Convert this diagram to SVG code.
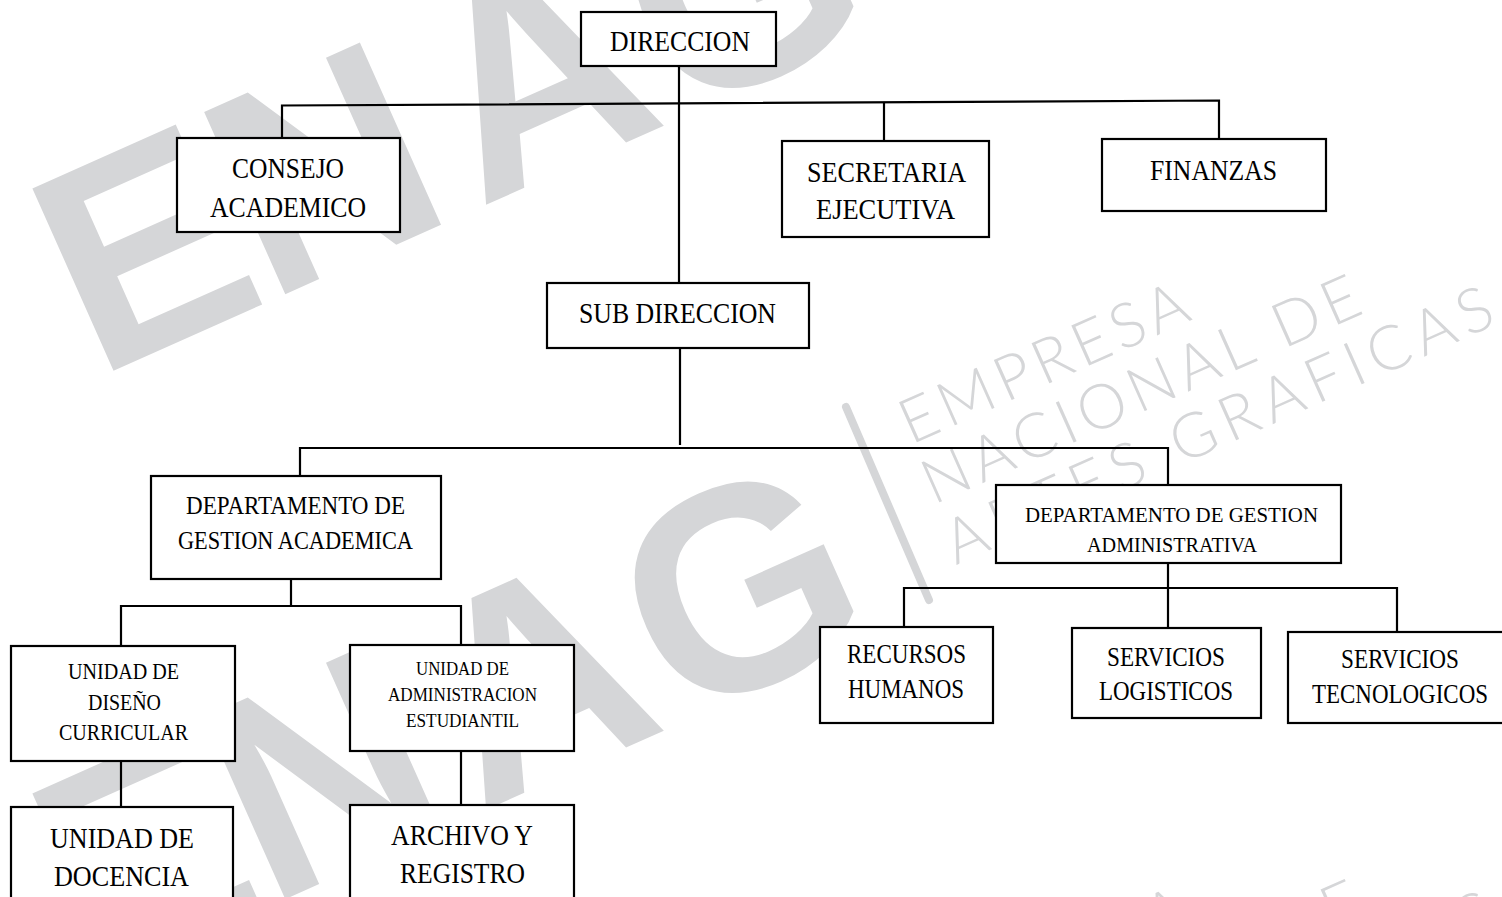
<svg xmlns="http://www.w3.org/2000/svg" width="1502" height="897" viewBox="0 0 1502 897">
<style>
.wm{fill:#d5d6d8;font-family:"Liberation Sans",Arial,sans-serif;font-weight:bold;font-size:290px}
.ws{fill:#d5d6d8;font-family:Lato,"Open Sans","Noto Sans",sans-serif;font-weight:300;font-size:62px}
.bar{stroke:#d5d6d8;stroke-width:8;stroke-linecap:round}
.box{fill:#fff;stroke:#000;stroke-width:2.2}
.t{font-family:"Liberation Serif","Times New Roman",serif;fill:#000;text-anchor:middle}
.c{stroke:#000;stroke-width:2.2;fill:none}
</style>
<defs>
  <g id="wtext">
    <text class="ws" x="0" y="0" textLength="309" lengthAdjust="spacing">EMPRESA</text>
    <text class="ws" x="-4" y="64" textLength="473" lengthAdjust="spacing">NACIONAL DE</text>
    <text class="ws" x="-8" y="128" textLength="594" lengthAdjust="spacing">ARTES GRAFICAS</text>
  </g>
</defs>
<rect width="1502" height="897" fill="#fff"/>
<g id="watermark">
  <g transform="translate(115,370) rotate(-24)"><text class="wm" x="-21 167 399 615" y="0">ENAG</text></g>
  <g transform="translate(115,975) rotate(-24)"><text class="wm" x="-21 167 399 615" y="0">ENAG</text></g>
  <line class="bar" x1="846" y1="-198" x2="929" y2="-5"/>
  <line class="bar" x1="846" y1="407" x2="929" y2="600"/>
  <use href="#wtext" transform="translate(911,445) rotate(-24)"/>
  <use href="#wtext" transform="translate(911,1050) rotate(-24)"/>
</g>
<g id="connectors">
  <path class="c" d="M679,66 V283"/>
  <path class="c" d="M282,138 V105.5 L1219,100.5 V139"/>
  <path class="c" d="M884,102.3 V141"/>
  <path class="c" d="M680,348 V445"/>
  <path class="c" d="M300,476 V448 H1168 V485"/>
  <path class="c" d="M291,579 V606"/>
  <path class="c" d="M121,646 V606 H461 V645"/>
  <path class="c" d="M121,761 V807"/>
  <path class="c" d="M461,751 V805"/>
  <path class="c" d="M1168,563 V628"/>
  <path class="c" d="M904,627 V588 H1397 V632"/>
</g>
<g id="direccion"><rect class="box" x="581" y="12" width="195" height="54"/><text class="t" x="680" y="51" font-size="29" textLength="140" lengthAdjust="spacingAndGlyphs">DIRECCION</text></g>
<g id="consejo"><rect class="box" x="177" y="138" width="223" height="94"/><text class="t" x="288" y="178" font-size="30" textLength="112" lengthAdjust="spacingAndGlyphs">CONSEJO</text><text class="t" x="288" y="217" font-size="30" textLength="156" lengthAdjust="spacingAndGlyphs">ACADEMICO</text></g>
<g id="secretaria"><rect class="box" x="782" y="141" width="207" height="96"/><text class="t" x="886.5" y="182" font-size="30" textLength="159" lengthAdjust="spacingAndGlyphs">SECRETARIA</text><text class="t" x="885.5" y="219" font-size="30" textLength="139" lengthAdjust="spacingAndGlyphs">EJECUTIVA</text></g>
<g id="finanzas"><rect class="box" x="1102" y="139" width="224" height="72"/><text class="t" x="1213.5" y="180" font-size="30" textLength="127" lengthAdjust="spacingAndGlyphs">FINANZAS</text></g>
<g id="subdireccion"><rect class="box" x="547" y="283" width="262" height="65"/><text class="t" x="677.5" y="323" font-size="30" textLength="197" lengthAdjust="spacingAndGlyphs">SUB DIRECCION</text></g>
<g id="dga"><rect class="box" x="151" y="476" width="290" height="103"/><text class="t" x="295.5" y="514" font-size="25" textLength="219" lengthAdjust="spacingAndGlyphs">DEPARTAMENTO DE</text><text class="t" x="295.5" y="549" font-size="25" textLength="235" lengthAdjust="spacingAndGlyphs">GESTION ACADEMICA</text></g>
<g id="dgadm"><rect class="box" x="996" y="485" width="345" height="78"/><text class="t" x="1171.5" y="522" font-size="22" textLength="293" lengthAdjust="spacingAndGlyphs">DEPARTAMENTO DE GESTION</text><text class="t" x="1172" y="552" font-size="22" textLength="170" lengthAdjust="spacingAndGlyphs">ADMINISTRATIVA</text></g>
<g id="udc"><rect class="box" x="11" y="646" width="224" height="115"/><text class="t" x="123.5" y="679" font-size="22.5" textLength="111" lengthAdjust="spacingAndGlyphs">UNIDAD DE</text><text class="t" x="124.5" y="710" font-size="22.5" textLength="73" lengthAdjust="spacingAndGlyphs">DISEÑO</text><text class="t" x="123.5" y="740" font-size="22.5" textLength="129" lengthAdjust="spacingAndGlyphs">CURRICULAR</text></g>
<g id="uae"><rect class="box" x="350" y="645" width="224" height="106"/><text class="t" x="462.5" y="675" font-size="19" textLength="93" lengthAdjust="spacingAndGlyphs">UNIDAD DE</text><text class="t" x="462.5" y="701" font-size="19" textLength="149" lengthAdjust="spacingAndGlyphs">ADMINISTRACION</text><text class="t" x="462.5" y="727" font-size="19" textLength="113" lengthAdjust="spacingAndGlyphs">ESTUDIANTIL</text></g>
<g id="docencia"><rect class="box" x="11" y="807" width="222" height="100"/><text class="t" x="122" y="848" font-size="29.5" textLength="144" lengthAdjust="spacingAndGlyphs">UNIDAD DE</text><text class="t" x="121.5" y="886" font-size="29.5" textLength="135" lengthAdjust="spacingAndGlyphs">DOCENCIA</text></g>
<g id="archivo"><rect class="box" x="350" y="805" width="224" height="100"/><text class="t" x="462" y="845" font-size="29" textLength="142" lengthAdjust="spacingAndGlyphs">ARCHIVO Y</text><text class="t" x="462.5" y="883" font-size="29" textLength="125" lengthAdjust="spacingAndGlyphs">REGISTRO</text></g>
<g id="rrhh"><rect class="box" x="820" y="627" width="173" height="96"/><text class="t" x="906.5" y="663" font-size="27" textLength="119" lengthAdjust="spacingAndGlyphs">RECURSOS</text><text class="t" x="906" y="698" font-size="27" textLength="116" lengthAdjust="spacingAndGlyphs">HUMANOS</text></g>
<g id="logisticos"><rect class="box" x="1072" y="628" width="189" height="90"/><text class="t" x="1166" y="666" font-size="27" textLength="118" lengthAdjust="spacingAndGlyphs">SERVICIOS</text><text class="t" x="1166" y="700" font-size="27" textLength="134" lengthAdjust="spacingAndGlyphs">LOGISTICOS</text></g>
<g id="tecnologicos"><rect class="box" x="1288" y="632" width="230" height="91"/><text class="t" x="1400" y="668" font-size="27" textLength="118" lengthAdjust="spacingAndGlyphs">SERVICIOS</text><text class="t" x="1400" y="703" font-size="27" textLength="176" lengthAdjust="spacingAndGlyphs">TECNOLOGICOS</text></g>
</svg>
